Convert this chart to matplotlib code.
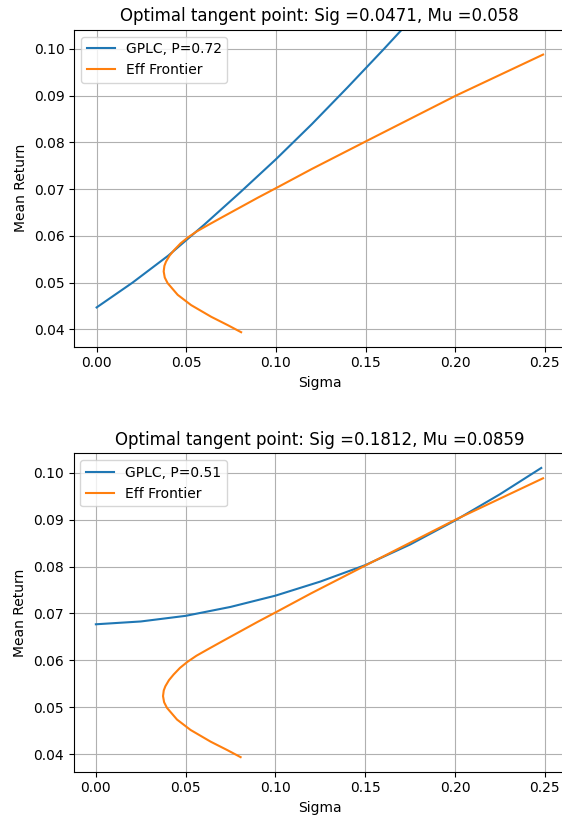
import numpy as np
import matplotlib.pyplot as plt

# efficient frontier (sigma, mean return)
ef_sig = [0.0806, 0.0732, 0.0639, 0.0527, 0.0452, 0.0396, 0.0380, 0.0374, 0.0378,
          0.0387, 0.0407, 0.0433, 0.0468, 0.0510, 0.0560, 0.0620, 0.0700, 0.0800,
          0.0900, 0.1004, 0.1199, 0.1510, 0.2003, 0.2490]
ef_mu = [0.0394, 0.0409, 0.0427, 0.0452, 0.0474, 0.0499, 0.0511, 0.0524, 0.0536,
         0.0545, 0.0558, 0.0570, 0.0584, 0.0597, 0.0610, 0.0623, 0.0640, 0.0661,
         0.0682, 0.0703, 0.0743, 0.0804, 0.0900, 0.0988]

# GPLC curve, P=0.72
g1_sig = [0.0, 0.02, 0.04, 0.06, 0.08, 0.10, 0.12, 0.14, 0.16, 0.18]
g1_mu = [0.0447, 0.0500, 0.0558, 0.0624, 0.0693, 0.0764, 0.0839, 0.0918, 0.0999, 0.1082]

# GPLC curve, P=0.51
g2_sig = [0.0, 0.025, 0.05, 0.075, 0.10, 0.125, 0.15, 0.175, 0.20, 0.225, 0.248]
g2_mu = [0.0677, 0.0683, 0.0695, 0.0714, 0.0738, 0.0768, 0.0803, 0.0847, 0.0898, 0.0954, 0.1010]

panels = [
    (g1_sig, g1_mu, 'GPLC, P=0.72', 'Optimal tangent point: Sig =0.0471, Mu =0.058'),
    (g2_sig, g2_mu, 'GPLC, P=0.51', 'Optimal tangent point: Sig =0.1812, Mu =0.0859'),
]

fig = plt.figure(figsize=(5.62, 8.18), dpi=100)
W, H = 562, 818
boxes = [(74.3, 29.8, 346.7), (73.5, 453.4, 771.7)]  # left, top, bottom in px
right = 565.4

for (sig, mu, lab, title), (l, t, b) in zip(panels, boxes):
    ax = fig.add_axes([l / W, 1 - b / H, (right - l) / W, (b - t) / H])
    ax.plot(sig, mu, label=lab)
    ax.plot(ef_sig, ef_mu, label='Eff Frontier')
    ax.set_xlim(-0.01245, 0.26145)
    ax.set_ylim(0.0363, 0.1041)
    ax.spines['right'].set_visible(False)  # cut off in the original
    ax.grid(True)
    ax.legend(loc='upper left')
    ax.set_title(title)
    ax.set_xlabel('Sigma')
    ax.set_ylabel('Mean Return')

fig.savefig('out.png', dpi=100)
